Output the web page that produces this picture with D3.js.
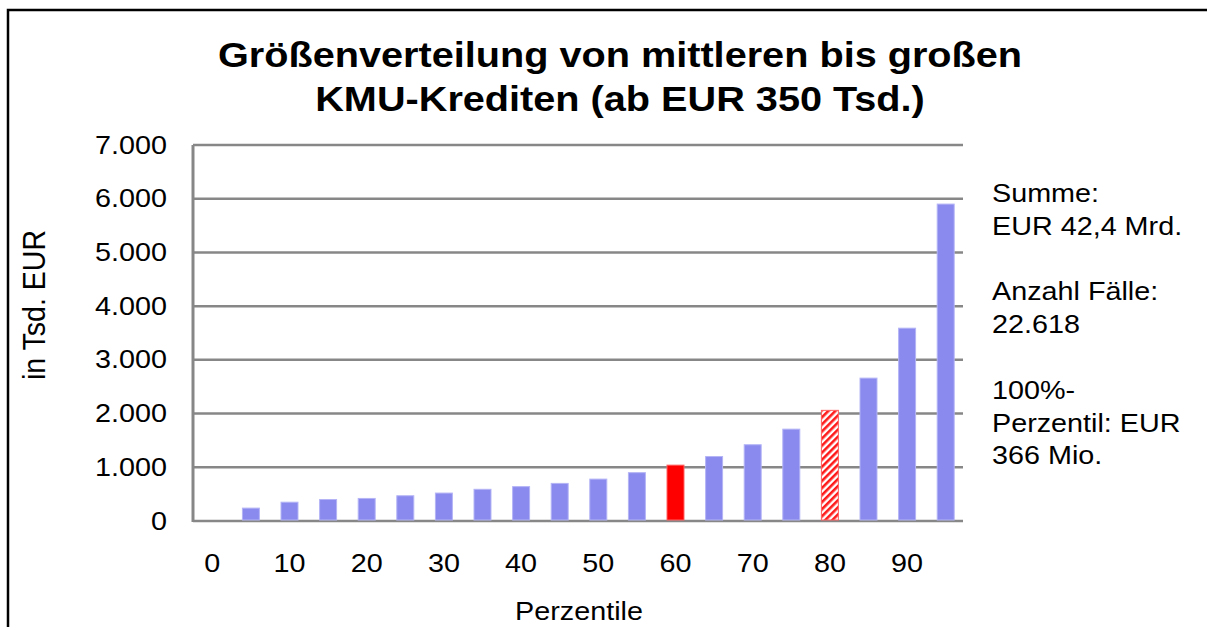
<!DOCTYPE html>
<html>
<head>
<meta charset="utf-8">
<script src="https://cdn.jsdelivr.net/npm/d3@7"></script>
<style>
  body { margin: 0; background: #fff; overflow: hidden; }
  svg { display: block; font-family: "Liberation Sans", Arial, sans-serif; }
</style>
</head>
<body>
<svg id="chart" width="1207" height="627"></svg>
<script>
// Perzentile (x-Kategorien), 0 hat keinen Balken
const perzentile = [0, 5, 10, 15, 20, 25, 30, 35, 40, 45, 50, 55, 60, 65, 70, 75, 80, 85, 90, 95];
// Kreditvolumen in Tsd. EUR je Perzentil (ab 5)
const balkenPerzentile = [5, 10, 15, 20, 25, 30, 35, 40, 45, 50, 55, 60, 65, 70, 75, 80, 85, 90, 95];
const werte = [240, 350, 400, 420, 470, 520, 590, 640, 700, 780, 900, 1040, 1200, 1420, 1710, 2060, 2660, 3590, 5900];
const xBeschriftung = [0, 10, 20, 30, 40, 50, 60, 70, 80, 90];
const yTicks = [0, 1000, 2000, 3000, 4000, 5000, 6000, 7000];
const titel = ["Größenverteilung von mittleren bis großen", "KMU-Krediten (ab EUR 350 Tsd.)"];
const infoText = ["Summe:", "EUR 42,4 Mrd.", "", "Anzahl Fälle:", "22.618", "", "100%-", "Perzentil: EUR", "366 Mio."];
const rotesPerzentil = 60;
const schraffiertesPerzentil = 80;

const stretch = 1.15; // text in the original is a bit wider
const svg = d3.select("#chart");
const plotL = 193, plotR = 965, plotT = 145, plotB = 521;

const de = d3.formatLocale({ decimal: ",", thousands: ".", grouping: [3], currency: ["", " €"] });
const fmt = de.format(",d");

const x = d3.scaleBand().domain(perzentile).range([plotL, plotR]).paddingInner(0.56).paddingOuter(0.28);
const y = d3.scaleLinear().domain([0, 7000]).range([plotB, plotT]);

// hatch pattern
const defs = svg.append("defs");
defs.append("pattern")
  .attr("id", "schraffur")
  .attr("patternUnits", "userSpaceOnUse")
  .attr("width", 5).attr("height", 5)
  .attr("patternTransform", "rotate(45)")
  .call(p => {
    p.append("rect").attr("width", 5).attr("height", 5).attr("fill", "#fff");
    p.append("rect").attr("width", 2.6).attr("height", 5).attr("fill", "#ff1a1a");
  });

// outer frame (only top and left edges are inside the picture)
svg.append("path")
  .attr("d", "M8,640 V10 H1207")
  .attr("fill", "none").attr("stroke", "#000").attr("stroke-width", 2.5);

// title
svg.append("g").selectAll("text")
  .data(titel)
  .join("text")
  .attr("transform", (d, i) => `translate(620,${67 + i * 44}) scale(${stretch},1)`)
  .attr("text-anchor", "middle")
  .attr("font-weight", "bold")
  .attr("font-size", 34.5)
  .attr("fill", "#000")
  .text(d => d);

// gridlines
svg.append("g").selectAll("line")
  .data(yTicks)
  .join("line")
  .attr("x1", plotL).attr("x2", plotR - 2)
  .attr("y1", d => y(d)).attr("y2", d => y(d))
  .attr("stroke", "#878787").attr("stroke-width", 2.5);

// y axis line
svg.append("line")
  .attr("x1", plotL).attr("x2", plotL)
  .attr("y1", plotT).attr("y2", plotB + 1)
  .attr("stroke", "#878787").attr("stroke-width", 3);

// bars
const bars = balkenPerzentile.map((p, i) => ({ p, v: werte[i] }));
svg.append("g").selectAll("rect")
  .data(bars)
  .join("rect")
  .attr("x", d => x(d.p))
  .attr("width", x.bandwidth())
  .attr("y", d => y(d.v))
  .attr("height", d => y(0) - y(d.v) - 1)
  .attr("fill", d => d.p === rotesPerzentil ? "#ff0000" : d.p === schraffiertesPerzentil ? "url(#schraffur)" : "#8a8aee")
  .attr("stroke", d => d.p === rotesPerzentil || d.p === schraffiertesPerzentil ? "#ff6060" : "#b4b4f6")
  .attr("stroke-width", 1);

// y axis labels
svg.append("g")
  .attr("transform", `translate(${plotL},0)`)
  .call(d3.axisLeft(y).tickValues(yTicks).tickFormat(fmt).tickSize(0).tickPadding(0))
  .call(g => g.select(".domain").remove())
  .call(g => g.selectAll("text")
    .attr("x", -26 / stretch)
    .attr("transform", `scale(${stretch},1)`)
    .attr("font-size", 25)
    .attr("font-family", "Liberation Sans, Arial, sans-serif")
    .attr("fill", "#000"));

// x axis labels
svg.append("g")
  .attr("transform", `translate(0,${plotB})`)
  .call(d3.axisBottom(x).tickValues(xBeschriftung).tickSize(0).tickPadding(33))
  .call(g => g.select(".domain").remove())
  .call(g => g.selectAll("text")
    .attr("transform", `scale(${stretch},1)`)
    .attr("font-size", 25)
    .attr("font-family", "Liberation Sans, Arial, sans-serif")
    .attr("fill", "#000"));

// axis titles
svg.append("text")
  .attr("transform", `translate(${(plotL + plotR) / 2},620) scale(${stretch},1)`)
  .attr("text-anchor", "middle")
  .attr("font-size", 25)
  .text("Perzentile");

svg.append("text")
  .attr("transform", `translate(45,305) rotate(-90) scale(1,1.08)`)
  .attr("text-anchor", "middle")
  .attr("font-size", 28.5)
  .text("in Tsd. EUR");

// info block on the right
svg.append("g").selectAll("text")
  .data(infoText)
  .join("text")
  .attr("transform", (d, i) => `translate(992,${202 + i * 32.8}) scale(${stretch},1)`)
  .attr("font-size", 25)
  .attr("fill", "#000")
  .text(d => d);
</script>
</body>
</html>
